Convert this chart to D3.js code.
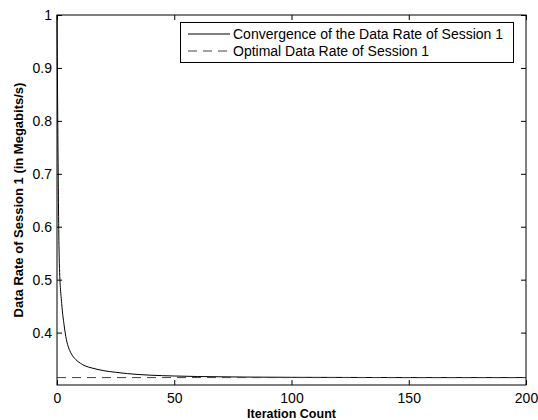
<!DOCTYPE html>
<html><head><meta charset="utf-8">
<script src="https://cdn.jsdelivr.net/npm/d3@7"></script>
<style>body{margin:0;background:#fff}svg{display:block}</style>
</head><body>
<script>
const iterations = [0,1,2,3,4,5,6,8,10,12,15,20,25,30,40,50,60,80,100,150,200];
const rates = [1.0,0.53,0.455,0.415,0.387,0.371,0.361,0.349,0.342,0.337,0.333,0.328,0.325,0.3225,0.3195,0.318,0.317,0.316,0.3155,0.315,0.315];
const optimalRate = 0.315;
const xTicks = [0,50,100,150,200];
const yTicks = [0.4,0.5,0.6,0.7,0.8,0.9,1];
const legendLabels = ["Convergence of the Data Rate of Session 1","Optimal Data Rate of Session 1"];

const W=538,H=420, m={l:57,r:12,t:15,b:35};
const svg=d3.select("body").append("svg").attr("width",W).attr("height",H);
const x=d3.scaleLinear().domain([0,200]).range([m.l,W-m.r]);
const y=d3.scaleLinear().domain([0.301,1]).range([H-m.b,m.t]);
const font="Liberation Sans, Arial, Helvetica, sans-serif";

// curve
svg.append("path").datum(iterations.map((d,i)=>[d,rates[i]]))
  .attr("fill","none").attr("stroke","#000").attr("stroke-width",1)
  .attr("d",d3.line().x(d=>x(d[0])).y(d=>y(d[1])).curve(d3.curveMonotoneX));
// optimal
svg.append("line").attr("x1",x(0)).attr("x2",x(200)).attr("y1",y(optimalRate)).attr("y2",y(optimalRate))
  .attr("stroke","#444").attr("stroke-width",1).attr("stroke-dasharray","9,6");

// axes
const ax=(g,axis)=>{g.call(axis);g.select(".domain").remove();g.selectAll("text").attr("font-family",font).attr("font-size",14).attr("fill","#000");g.selectAll("line").attr("stroke","#000");};
svg.append("g").attr("transform",`translate(0,${H-m.b})`).call(g=>ax(g,d3.axisBottom(x).tickValues(xTicks).tickSizeInner(-5).tickSizeOuter(0).tickPadding(8).tickFormat(d3.format("d"))));
svg.append("g").attr("transform",`translate(0,${m.t})`).call(g=>{ax(g,d3.axisTop(x).tickValues(xTicks).tickSizeInner(-5).tickSizeOuter(0));g.selectAll("text").remove();});
svg.append("g").attr("transform",`translate(${m.l},0)`).call(g=>ax(g,d3.axisLeft(y).tickValues(yTicks).tickSizeInner(-5).tickSizeOuter(0).tickPadding(5).tickFormat(d=>d===1?"1":d3.format(".1f")(d))));
svg.append("g").attr("transform",`translate(${W-m.r},0)`).call(g=>{ax(g,d3.axisRight(y).tickValues(yTicks).tickSizeInner(-5).tickSizeOuter(0));g.selectAll("text").remove();});
svg.append("rect").attr("x",m.l).attr("y",m.t).attr("width",W-m.r-m.l).attr("height",H-m.b-m.t)
  .attr("fill","none").attr("stroke","#000").attr("stroke-width",1);

// labels
svg.append("text").attr("x",(x(0)+x(200))/2).attr("y",418).attr("text-anchor","middle")
  .attr("font-family",font).attr("font-size",12.5).attr("font-weight","bold").text("Iteration Count");
svg.append("text").attr("transform",`translate(23,${(m.t+H-m.b)/2}) rotate(-90)`).attr("text-anchor","middle")
  .attr("font-family",font).attr("font-size",13).attr("font-weight","bold").text("Data Rate of Session 1 (in Megabits/s)");

// legend
const lg=svg.append("g");
lg.append("rect").attr("x",180.5).attr("y",22.5).attr("width",333).attr("height",40).attr("fill","#fff").attr("stroke","#000");
legendLabels.forEach((t,i)=>{
  const yy=34+i*17;
  lg.append("line").attr("x1",188).attr("x2",230).attr("y1",yy).attr("y2",yy).attr("stroke",i?"#444":"#000")
    .attr("stroke-dasharray",i?"9,6":null);
  lg.append("text").attr("x",233).attr("y",yy+5).attr("font-family",font).attr("font-size",14).text(t);
});
</script>
</body></html>
